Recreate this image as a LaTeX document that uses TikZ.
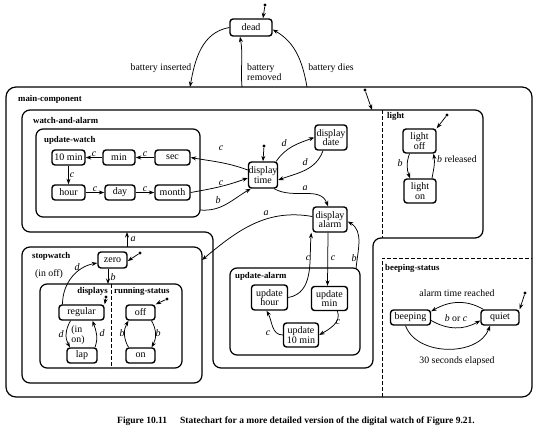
\documentclass[tikz,border=0pt]{standalone}
\usepackage{fontspec}
\setmainfont{Liberation Serif}
\usetikzlibrary{arrows.meta}
\begin{document}
\begin{tikzpicture}[x=1pt,y=1pt,
  st/.style={draw,line width=1.4pt,rounded corners=3pt,inner sep=0pt,align=center,font=\fontsize{10}{9.6}\selectfont},
  sz/.style 2 args={minimum width=#1pt,minimum height=#2pt},
  box/.style={line width=1.2pt,rounded corners=8pt},
  dsh/.style={line width=0.8pt,dash pattern=on 4pt off 2pt},
  tr/.style={line width=0.75pt,-{Stealth[length=5.5pt,width=4pt]}},
  lab/.style={font=\fontsize{10}{10}\selectfont\itshape,inner sep=1pt},
  txt/.style={font=\fontsize{9.8}{10}\selectfont,inner sep=1pt,align=left},
  ttl/.style={font=\fontsize{8.8}{9}\selectfont\bfseries,anchor=west,inner sep=0pt},
  dot/.style={circle,fill,inner sep=0pt,minimum size=3.2pt}
]
\useasboundingbox (0,0) rectangle (537,-433);

% ---------- boxes ----------
\draw[box,rounded corners=10pt] (6,-87) rectangle (532,-397);
\draw[box] (22,-110) -- (483,-110) -- (483,-238) -- (373,-238) -- (373,-368) -- (213,-368) -- (213,-232) -- (22,-232) -- cycle;
\draw[box,rounded corners=7pt] (36,-129) rectangle (200,-217);
\draw[box] (22,-247) rectangle (202,-383);
\draw[box,rounded corners=7pt] (40,-284) rectangle (182,-368);
\draw[dsh] (111,-284) -- (111,-368);
\draw[box,rounded corners=7pt] (230,-268) rectangle (360,-355);
\draw[dsh] (382,-110) -- (382,-238);
\draw[dsh] (382,-397) -- (382,-258) -- (532,-258);

% ---------- titles ----------
\node[ttl] (tmain) at (18,-99) {main-component};
\node[ttl] (twa) at (33,-120) {watch-and-alarm};
\node[ttl] (tuw) at (44,-140) {update-watch};
\node[ttl] (tli) at (387,-116) {light};
\node[ttl] (tsw) at (32,-256) {stopwatch};
\node[ttl,anchor=east] (tdi) at (108,-291) {displays};
\node[ttl] (trs) at (114,-291) {running-status};
\node[ttl] (tua) at (235,-276) {update-alarm};
\node[ttl] (tbs) at (385,-268) {beeping-status};

% ---------- states ----------
\node[st,sz={42}{17}] (dead) at (251,-27.5) {dead};
\node[st,sz={33}{15}] (tenmin) at (68.5,-157.5) {10 min};
\node[st,sz={32}{15}] (min) at (119,-157.5) {min};
\node[st,sz={35}{15}] (sec) at (172.5,-157.5) {sec};
\node[st,sz={33}{15}] (hour) at (68.5,-192.5) {hour};
\node[st,sz={30}{15}] (day) at (120,-192.5) {day};
\node[st,sz={35}{15}] (month) at (172.5,-192.5) {month};
\node[st,sz={29}{26}] (dtime) at (263,-175) {display\\time};
\node[st,sz={32}{25}] (ddate) at (331,-137.5) {display\\date};
\node[st,sz={34}{25}] (dalarm) at (330,-219.5) {display\\alarm};
\node[st,sz={33}{24}] (loff) at (419.5,-141) {light\\off};
\node[st,sz={32}{24}] (lon) at (420,-191) {light\\on};
\node[st,sz={29}{16}] (zero) at (112.5,-260) {zero};
\node[st,sz={45}{15}] (regular) at (81.5,-312.5) {regular};
\node[st,sz={30}{15}] (lap) at (82,-355.5) {lap};
\node[st,sz={29}{15}] (off) at (140.5,-312.5) {off};
\node[st,sz={29}{15}] (on) at (140.5,-355.5) {on};
\node[st,sz={36}{25}] (uhour) at (269.5,-297.5) {update\\hour};
\node[st,sz={36}{24}] (umin) at (329.5,-298.5) {update\\min};
\node[st,sz={35}{24}] (uten) at (301,-335) {update\\10 min};
\node[st,sz={40}{15}] (beeping) at (410.5,-317.5) {beeping};
\node[st,sz={38}{15}] (quiet) at (500,-317.5) {quiet};

% ---------- initial dots ----------
\node[dot] (i0) at (265,-5) {};
\draw[tr] (i0) -- ([xshift=12pt]dead.north);
\node[dot] (im) at (365,-90) {};
\coordinate (mt) at (372,-110);
\draw[tr] (im) -- (mt);
\node[dot] (idt) at (264,-146) {};
\draw[tr] (idt) -- (dtime.north);
\node[dot] (ilo) at (447,-115) {};
\draw[tr] (ilo) -- (loff.north east);
\node[dot] (iz) at (140,-253) {};
\draw[tr] (iz) -- ([yshift=-1pt]zero.east);
\node[dot] (ir) at (106,-297) {};
\draw[tr] (ir) -- (regular.north east);
\node[dot] (io) at (167,-299) {};
\draw[tr] (io) -- (off.north east);
\node[dot] (iq) at (525,-293) {};
\draw[tr] (iq) -- (quiet.north east);

% ---------- dead transitions ----------
\coordinate (bi) at (190,-87);
\coordinate (br) at (242,-87);
\coordinate (bd) at (307,-87);
\draw[tr] (dead.west) to[out=190,in=80] (bi);
\draw[tr] (br) to[out=95,in=-80] ([xshift=-11pt]dead.south);
\draw[tr] (bd) to[out=100,in=-30] ([yshift=-2pt]dead.east);
\node[txt] (lbi) at (161,-68) {battery inserted};
\node[txt,anchor=west] (lbr) at (246,-72) {battery\\removed};
\node[txt] (lbd) at (331,-68) {battery dies};

% ---------- update-watch ----------
\draw[tr] (sec) -- node[lab,above] {c} (min);
\draw[tr] (min) -- node[lab,above] {c} (tenmin);
\draw[tr] (tenmin) -- node[lab,right] {c} (hour);
\draw[tr] (hour) -- node[lab,above] {c} (day);
\draw[tr] (day) -- node[lab,above] {c} (month);
\draw[tr] ([yshift=5pt]dtime.west) to[out=160,in=-10] (sec.east);
\node[lab] (lc1) at (221,-148) {c};
\draw[tr] (month.east) to[out=10,in=200] ([yshift=-3pt]dtime.west);
\node[lab] (lc2) at (221,-183) {c};
\coordinate (uwr) at (200,-210);
\draw[tr] (uwr) to[out=-5,in=210] ([xshift=3pt]dtime.south west);
\node[lab] (lb1) at (218,-200) {b};

% ---------- display transitions ----------
\draw[tr] ([xshift=-2pt]dtime.north east) to[out=55,in=200] (ddate.west);
\node[lab] (ld1) at (284,-143) {d};
\draw[tr] ([xshift=-8pt]ddate.south) to[out=-110,in=20] ([yshift=-5pt]dtime.east);
\node[lab] (ld2) at (305,-162) {d};
\draw[tr] ([xshift=-4pt]dtime.south east) to[out=-30,in=110] ([xshift=-2pt]dalarm.north);
\node[lab] (la1) at (305,-188) {a};
\coordinate (swr) at (202,-260);
\draw[tr] ([yshift=3pt]dalarm.west) to[out=170,in=40] (swr);
\node[lab] (la2) at (266,-213) {a};
\coordinate (swt) at (127,-247);
\coordinate (wab) at (127,-232);
\draw[tr] (swt) -- (wab);
\node[lab] (la3) at (133,-239.5) {a};

% ---------- update-alarm ----------
\draw[tr] (uhour.east) to[out=10,in=-95] ([xshift=-1pt]dalarm.south west);
\node[lab] (lc3) at (308,-258) {c};
\draw[tr] ([xshift=-2pt]dalarm.south) -- ([xshift=-2pt]umin.north);
\node[lab] (lc4) at (333,-258) {c};
\coordinate (uar) at (356,-269);
\draw[tr] (uar) to[out=85,in=-30] ([yshift=-2pt]dalarm.east);
\node[lab] (lb2) at (354,-258) {b};
\draw[tr] ([xshift=8pt]umin.south) to[out=-70,in=30] (uten.east);
\node[lab] (lc5) at (338,-322) {c};
\draw[tr] (uten.west) to[out=180,in=-60] ([xshift=-3pt]uhour.south);
\node[lab] (lc6) at (268,-333) {c};

% ---------- stopwatch ----------
\coordinate (dtop) at (108,-284);
\draw[tr] ([xshift=-4.5pt]zero.south) -- (dtop);
\node[lab] (lb3) at (113,-277) {b};
\draw[tr] ([xshift=-19pt]regular.north) to[out=90,in=190] ([yshift=-3pt]zero.west);
\node[lab] (ld3) at (77,-267) {d};
\node[txt] (lio) at (49,-274) {(in off)};
\draw[tr] ([xshift=-11pt]regular.south) to[out=-120,in=120] ([xshift=-12pt]lap.north);
\node[lab] (ld4) at (61,-334) {d};
\node[txt,align=left,font=\fontsize{9.8}{9.5}\selectfont] (lin) at (78,-335) {(in\\on)};
\draw[tr] ([xshift=13pt]lap.north) to[out=70,in=-70] ([xshift=11pt]regular.south);
\node[lab] (ld5) at (102,-333) {d};
\draw[tr] ([xshift=11pt]off.south) to[out=-60,in=60] ([xshift=11pt]on.north);
\node[lab] (lb4) at (158,-333) {b};
\draw[tr] ([xshift=-12pt]on.north) to[out=120,in=-120] ([xshift=-12pt]off.south);
\node[lab] (lb5) at (122,-333) {b};

% ---------- light ----------
\draw[tr] ([xshift=-10pt]loff.south) to[out=-110,in=110] ([xshift=-10pt]lon.north);
\node[lab] (lb6) at (400,-163) {b};
\draw[tr] ([xshift=12pt]lon.north) to[out=80,in=-80] ([xshift=14pt]loff.south);
\node[txt,anchor=west] (lbrel) at (436,-159) {\textit{b} released};

% ---------- beeping ----------
\draw[tr] ([xshift=3pt]quiet.north west) to[out=150,in=30] ([yshift=-2pt]beeping.north east);
\node[txt] (latr) at (457,-293) {alarm time reached};
\draw[tr] ([yshift=-3pt]beeping.east) to[out=-30,in=210] ([yshift=-3pt]quiet.west);
\node[txt] (lborc) at (456,-318) {\textit{b} or \textit{c}};
\draw[tr] ([xshift=-5pt]beeping.south) to[out=-70,in=-110] ([xshift=-10pt]quiet.south);
\node[txt] (l30) at (457,-361) {30 seconds elapsed};

% ---------- caption ----------
\node[font=\fontsize{9.5}{10}\selectfont\bfseries] (cap) at (296,-421) {Figure 10.11\hspace{13pt}Statechart for a more detailed version of the digital watch of Figure 9.21.};
\end{tikzpicture}
\end{document}
